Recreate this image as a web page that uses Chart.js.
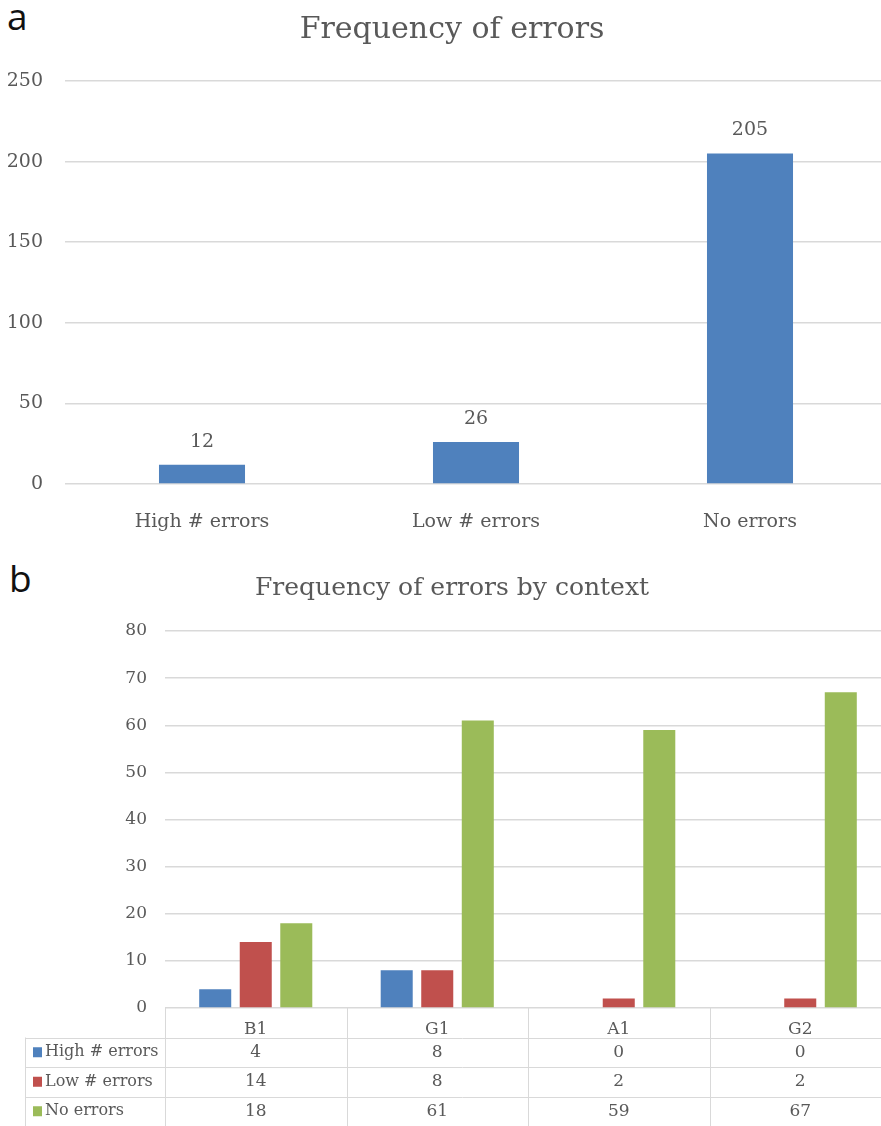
<!DOCTYPE html>
<html lang="en">
<head>
<meta charset="UTF-8">
<title>Frequency of errors</title>
<script src="https://cdn.jsdelivr.net/npm/chart.js"></script>
<style>
    body {
        margin: 0;
        width: 881px;
        height: 1126px;
        overflow: hidden;
        background: #fff;
        position: relative;
    }
    .panel {
        position: absolute;
        font-family: "Open Sans", sans-serif;
        font-size: 37px;
        line-height: 1;
        color: #111;
    }
    #chartA { position: absolute; left: 0; top: 0; }
    #chartB { position: absolute; left: 0; top: 560px; }
</style>
</head>
<body>
<div class="panel" style="left:7px; top:-3px;">a</div>
<div class="panel" style="left:9px; top:559px;">b</div>
<canvas id="chartA" width="900" height="545"></canvas>
<canvas id="chartB" width="900" height="566"></canvas>

<script>
    // Data - panel a
    const totalLabels = ['High # errors', 'Low # errors', 'No errors'];
    const totalValues = [12, 26, 205];
    const yTicksA = [0, 50, 100, 150, 200, 250];

    // Data - panel b
    const contexts = ['B1', 'G1', 'A1', 'G2'];
    const seriesNames = ['High # errors', 'Low # errors', 'No errors'];
    const highErrors = [4, 8, 0, 0];
    const lowErrors = [14, 8, 2, 2];
    const noErrors = [18, 61, 59, 67];
    const yTicksB = [0, 10, 20, 30, 40, 50, 60, 70, 80];

    const BLUE = '#4f81bd';
    const RED = '#c0504d';
    const GREEN = '#9bbb59';
    const TEXT = '#595959';
    const GRID = '#d9d9d9';
    const FONT = '"DejaVu Serif", serif';

    Chart.defaults.font.family = FONT;
    Chart.defaults.color = TEXT;

    // chart title, centred on the page rather than on the (cropped) canvas
    const pageTitle = {
        id: 'pageTitle',
        afterDraw(chart, args, opts) {
            const ctx = chart.ctx;
            ctx.save();
            ctx.font = opts.size + 'px ' + FONT;
            ctx.fillStyle = TEXT;
            ctx.textAlign = 'center';
            ctx.textBaseline = 'middle';
            ctx.fillText(opts.text, opts.x, opts.y);
            ctx.restore();
        }
    };

    // value labels above bars (panel a)
    const valueLabels = {
        id: 'valueLabels',
        afterDatasetsDraw(chart) {
            const ctx = chart.ctx;
            const meta = chart.getDatasetMeta(0);
            ctx.save();
            ctx.font = '19px ' + FONT;
            ctx.fillStyle = TEXT;
            ctx.textAlign = 'center';
            ctx.textBaseline = 'middle';
            meta.data.forEach((bar, i) => {
                ctx.fillText(chart.data.datasets[0].data[i], bar.x, bar.y - 23);
            });
            ctx.restore();
        }
    };

    // data table under the axis (panel b)
    const dataTable = {
        id: 'dataTable',
        afterDraw(chart) {
            const ctx = chart.ctx;
            const xs = chart.scales.x;
            const top = chart.chartArea.bottom;
            const bottom = chart.height;
            const rowH = (bottom - top) / 4;
            const n = chart.data.labels.length;
            const colW = (xs.right - xs.left) / n;
            const tableLeft = 25;

            ctx.save();
            ctx.strokeStyle = GRID;
            ctx.lineWidth = 1;
            ctx.beginPath();
            for (let i = 0; i <= n; i++) {
                const x = Math.round(xs.left + i * colW) + 0.5;
                ctx.moveTo(x, top);
                ctx.lineTo(x, bottom);
            }
            ctx.moveTo(tableLeft + 0.5, top + rowH);
            ctx.lineTo(tableLeft + 0.5, bottom);
            for (let r = 1; r <= 3; r++) {
                const y = Math.round(top + r * rowH) + 0.5;
                ctx.moveTo(tableLeft, y);
                ctx.lineTo(chart.width, y);
            }
            ctx.stroke();

            ctx.textBaseline = 'middle';
            chart.data.datasets.forEach((ds, r) => {
                const yc = top + (r + 1.5) * rowH;
                ctx.fillStyle = ds.backgroundColor;
                ctx.fillRect(tableLeft + 8, yc - 5, 9, 10);
                ctx.fillStyle = TEXT;
                ctx.font = '16px ' + FONT;
                ctx.textAlign = 'left';
                ctx.fillText(ds.label, tableLeft + 20, yc);
                ctx.font = '17px ' + FONT;
                ctx.textAlign = 'center';
                ds.data.forEach((v, i) => {
                    ctx.fillText(v, xs.getPixelForValue(i), yc);
                });
            });
            ctx.restore();
        }
    };

    new Chart(document.getElementById('chartA'), {
        type: 'bar',
        data: {
            labels: totalLabels,
            datasets: [{
                data: totalValues,
                backgroundColor: BLUE,
                categoryPercentage: 1,
                barPercentage: 0.314
            }]
        },
        options: {
            responsive: false,
            animation: false,
            layout: { padding: { left: 0, right: 13, top: 81, bottom: 0 } },
            plugins: {
                legend: { display: false },
                tooltip: { enabled: false },
                title: { display: false },
                pageTitle: { text: 'Frequency of errors', size: 30, x: 452, y: 30 }
            },
            scales: {
                x: {
                    grid: { display: false },
                    border: { display: false },
                    ticks: { font: { size: 19 }, padding: 19 },
                    afterFit(scale) { scale.height = 61; }
                },
                y: {
                    min: yTicksA[0],
                    max: yTicksA[yTicksA.length - 1],
                    grid: { color: GRID, drawTicks: false, lineWidth: 1.5 },
                    border: { display: false },
                    ticks: { stepSize: yTicksA[1] - yTicksA[0], font: { size: 19 }, padding: 22 },
                    afterFit(scale) { scale.width = 65; }
                }
            }
        },
        plugins: [valueLabels, pageTitle]
    });

    new Chart(document.getElementById('chartB'), {
        type: 'bar',
        data: {
            labels: contexts,
            datasets: [
                { label: seriesNames[0], data: highErrors, backgroundColor: BLUE },
                { label: seriesNames[1], data: lowErrors, backgroundColor: RED },
                { label: seriesNames[2], data: noErrors, backgroundColor: GREEN }
            ]
        },
        options: {
            responsive: false,
            animation: false,
            categoryPercentage: 0.67,
            barPercentage: 0.79,
            layout: { padding: { left: 0, right: 9, top: 71, bottom: 0 } },
            plugins: {
                legend: { display: false },
                tooltip: { enabled: false },
                title: { display: false },
                pageTitle: { text: 'Frequency of errors by context', size: 25, x: 452, y: 28 }
            },
            scales: {
                x: {
                    grid: { display: false },
                    border: { display: false },
                    ticks: { font: { size: 17 }, padding: 3 },
                    afterFit(scale) { scale.height = 118; }
                },
                y: {
                    min: yTicksB[0],
                    max: yTicksB[yTicksB.length - 1],
                    grid: { color: GRID, drawTicks: false, lineWidth: 1.5 },
                    border: { display: false },
                    ticks: { stepSize: yTicksB[1] - yTicksB[0], font: { size: 17 }, padding: 18 },
                    afterFit(scale) { scale.width = 165; }
                }
            }
        },
        plugins: [dataTable, pageTitle]
    });
</script>
</body>
</html>
